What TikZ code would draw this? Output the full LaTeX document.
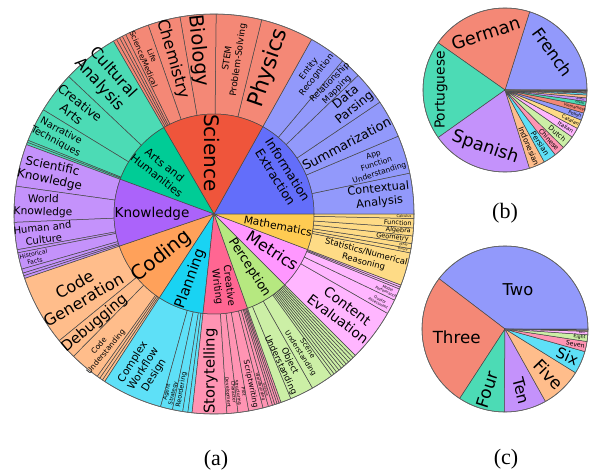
\documentclass[tikz,border=0pt]{standalone}
\usepackage{fontspec}
\setmainfont{DejaVu Sans}
\newfontfamily\capfont{Liberation Serif}
\definecolor{cB}{HTML}{636EFA}
\definecolor{cR}{HTML}{EF553B}
\definecolor{cG}{HTML}{00CC96}
\definecolor{cP}{HTML}{AB63FA}
\definecolor{cO}{HTML}{FFA15A}
\definecolor{cC}{HTML}{19D3F3}
\definecolor{cK}{HTML}{FF6692}
\definecolor{cL}{HTML}{B6E880}
\definecolor{cM}{HTML}{FF97FF}
\definecolor{cY}{HTML}{FECB52}
\newcounter{lb}
\tikzset{
 seg/.style={draw=black!72, line width=0.5pt, line join=round},
 lbl/.style={inner sep=0pt, align=center, text=black},
 captxt/.style={inner sep=0pt, font=\capfont\fontsize{22}{24}\selectfont},
 rim/.style={draw=black!60, line width=0.6pt},
}
\newcommand{\ringset}[2]{\foreach \sa/\sb in {#2} {\filldraw[fill=#1, seg] (\sa:100pt) arc[start angle=\sa,end angle=\sb,radius=100pt] -- (\sb:200pt) arc[start angle=\sb,end angle=\sa,radius=200pt] -- cycle;}}
\newcommand{\sect}[4]{\filldraw[fill=#4, seg] (0,0) -- (#1:#3pt) arc[start angle=#1,end angle=#2,radius=#3pt] -- cycle;}
\newcommand{\lab}[6]{\stepcounter{lb}\node[lbl, rotate=#3, font=\fontsize{#4}{#5}\selectfont] (lab\thelb) at (#1:#2pt) {#6};}
\begin{document}
\begin{tikzpicture}[x=1pt,y=1pt]
\useasboundingbox (0,0) rectangle (591,475);
\fill[white] (0,0) rectangle (591,475);
% ---------------- (a) sunburst
\begin{scope}[shift={(214,261)}]
\ringset{cB!70!white}{0/11.8, 11.8/22.9, 22.9/34, 34/43.9, 43.9/50, 50/60.8}
\ringset{cR!70!white}{60.8/76.2, 76.2/89.4, 89.4/99.8, 99.8/109.2, 109.2/116.2, 116.2/117.3, 117.3/118.2, 118.2/119.2, 119.2/120.2}
\ringset{cG!70!white}{120.2/136.6, 136.6/148.6, 148.6/158.4, 158.4/159.0, 159.0/159.7}
\ringset{cP!70!white}{159.7/172, 172/182.4, 182.4/190.3, 190.3/191.2, 191.2/196, 196/197.2, 197.2/198, 198/198.8}
\ringset{cO!70!white}{198.8/219.3, 219.3/225.4, 225.4/234.3, 234.3/235.2, 235.2/236.1, 236.1/236.9}
\ringset{cC!70!white}{236.9/254.5, 254.5/258, 258/261, 261/262.5, 262.5/263.7}
\ringset{cK!70!white}{263.7/273.7, 273.7/276.9, 276.9/280, 280/284.2, 284.2/285.8, 285.8/287, 287/287.7, 287.7/288.4, 288.4/289, 289/289.6}
\ringset{cL!70!white}{289.6/292.6, 292.6/299.5, 299.5/306, 306/306.9, 306.9/307.8, 307.8/308.7, 308.7/309.6, 309.6/310.5, 310.5/311.4, 311.4/312.3, 312.3/313.2, 313.2/314.1, 314.1/315}
\ringset{cM!70!white}{315/330.2, 330.2/334.5, 334.5/338, 338/338.6, 338.6/339.2}
\ringset{cY!70!white}{339.2/348.8, 348.8/350, 350/351.5, 351.5/353.7, 353.7/356, 356/358.7, 358.7/360}
\foreach \sa/\sb/\cc in {0/60.8/cB, 60.8/120.2/cR, 120.2/159.7/cG, 159.7/198.8/cP, 198.8/236.9/cO, 236.9/263.7/cC, 263.7/289.6/cK, 289.6/315/cL, 315/339.2/cM, 339.2/360/cY}
 {\sect{\sa}{\sb}{100}{\cc}}
\draw[rim] (0,0) circle[radius=200pt];
% inner labels
\lab{92}{61}{-90}{20}{22}{Science}
\lab{31}{79}{-58}{12.5}{14.5}{Information\\Extraction}
\lab{140.5}{69}{-38}{11}{13}{Arts and\\Humanities}
\lab{180}{62}{0}{13.6}{15}{Knowledge}
\lab{219}{67}{38}{20}{22}{Coding}
\lab{250}{69}{70}{14.5}{16}{Planning}
\lab{-83}{73}{-83}{10}{12}{Creative\\Writing}
\lab{-56.5}{64}{-57}{12.6}{14}{Perception}
\lab{-32}{69}{-33}{16}{18}{Metrics}
\lab{-10.5}{65}{-11}{10.7}{12}{Mathematics}
% science
\lab{69.5}{156}{71}{22}{24}{Physics}
\lab{83}{156}{82}{9}{11}{STEM\\Problem-Solving}
\lab{95.5}{164}{-84}{19.5}{21}{Biology}
\lab{104.8}{160}{-74}{16}{18}{Chemistry}
\lab{113}{170}{-67}{7.5}{9}{Life\\Science/Medical}
% information extraction
\lab{55.2}{173}{52}{8.5}{10}{Entity\\Recognition}
\lab{47}{175}{45}{8.5}{10}{Relationship\\Mapping}
\lab{39.2}{176}{39}{12.3}{14}{Data\\Parsing}
\lab{28}{150}{28}{13}{15}{Summarization}
\lab{17}{170}{18}{7.6}{9.5}{App\\Function\\Understanding}
\lab{6.3}{166}{6}{11.4}{13.5}{Contextual\\Analysis}
% mathematics
\lab{-0.6}{190}{-1}{3.5}{4}{Calculus}
\lab{-2.7}{184}{-3}{6.5}{7}{Function}
\lab{-5.1}{185}{-5}{6.5}{7}{Algebra}
\lab{-7.5}{180}{-7}{6.5}{7}{Geometry}
\lab{-9.2}{192}{-9}{3}{3.5}{Other}
\lab{-10.6}{192}{-11}{3}{3.5}{Theory}
\lab{-16}{157}{-15}{8.5}{10.5}{Statistics/Numerical\\Reasoning}
% metrics
\lab{-23.75}{189}{-24}{3.6}{4}{Model\\Performance}
\lab{-27.9}{187}{-28}{3.6}{4}{Quality\\Assessment}
\lab{-37.4}{162}{-37}{13.7}{16}{Content\\Evaluation}
% perception
\lab{-56.8}{164}{-57}{7}{8.5}{Scene\\Understanding}
\lab{-64.5}{165}{-64.5}{8.7}{10}{Object\\Understanding}
% creative writing
\lab{-91.3}{157}{90}{14.8}{16}{Storytelling}
\lab{-84.7}{179}{-85}{4.5}{5.5}{Character\\Development}
\lab{-81.5}{180}{-81}{4.5}{5.5}{Plot\\Structuring}
\lab{-77.8}{174}{-78}{7.6}{9}{Scriptwriting}
\lab{-75}{179}{-75}{4}{5}{Worldbuilding}
\lab{-73.6}{183}{-73.5}{3}{3.5}{Dialogue}
% planning
\lab{-114.5}{170}{58}{10.5}{12.5}{Complex\\Workflow\\Design}
\lab{-103.75}{184}{77}{5.5}{6.5}{Agent\\Strategy}
\lab{-100.5}{179}{80}{6.5}{7.5}{Reordering}
% coding
\lab{-150}{156}{30}{16}{18}{Code\\Generation}
\lab{-137.5}{162}{40}{14.7}{16}{Debugging}
\lab{-129.5}{175}{50}{7.5}{9}{Code\\Understanding}
% knowledge
\lab{166}{168}{-12}{12}{14}{Scientific\\Knowledge}
\lab{177.3}{171}{-2}{10.7}{12.5}{World\\Knowledge}
\lab{186.5}{172}{6}{10}{12}{Human and\\Culture}
\lab{193.6}{185}{12}{6}{7}{Historical\\Facts}
% arts
\lab{128.5}{173}{-48}{15.7}{18}{Cultural\\Analysis}
\lab{142.6}{174}{-38}{12.4}{14}{Creative\\Arts}
\lab{153.5}{174}{-28}{9.8}{11.5}{Narrative\\Techniques}
\end{scope}
% ---------------- (b) languages
\begin{scope}[shift={(505,385)}]
\foreach \sa/\sb/\cc in {0/72.5/cB, 72.5/144.8/cR, 144.8/215.4/cG, 215.4/287.4/cP, 287.4/298.6/cO, 298.6/307.8/cC, 307.8/315.5/cK, 315.5/325/cL, 325/332.1/cM, 332.1/338.5/cY, 338.5/343.7/cB, 343.7/348.9/cR, 348.9/352/cG, 352/354.5/cP, 354.5/356.5/cO, 356.5/357.8/cC, 357.8/358.5/cK, 358.5/359.1/cL, 359.1/359.6/cM, 359.6/360/cY}
 {\sect{\sa}{\sb}{82}{\cc!70!white}}
\draw[rim] (0,0) circle[radius=82pt];
\lab{38.4}{61}{-54}{16.7}{18}{French}
\lab{108.7}{60}{18}{17.8}{19}{German}
\lab{180}{64}{90}{13.8}{15}{Portuguese}
\lab{251}{61}{-19}{17.5}{19}{Spanish}
\lab{-67}{61}{-67}{7.6}{8}{Indonesian}
\lab{-56.8}{64}{-57}{7.4}{8}{Persian}
\lab{-48.3}{66}{-48}{6.6}{7.5}{Chinese}
\lab{-39.8}{68}{-40}{6.8}{7.5}{Dutch}
\lab{-31.4}{71}{-31}{5.6}{6.5}{Italian}
\lab{-24.7}{72}{-25}{4.8}{5.5}{Catalan}
\lab{-18.9}{74}{-19}{4.6}{5.5}{Polish}
\lab{-13.7}{72}{-14}{3.8}{4.5}{Vietnamese}
\lab{-9.5}{76}{-9.5}{3}{3.5}{Greek}
\lab{-6.8}{76}{-7}{2.6}{3}{Arabic}
\end{scope}
% ---------------- (c) counts
\begin{scope}[shift={(505,146)}]
\foreach \sa/\sb/\cc in {0/142.7/cB, 142.7/236.9/cR, 236.9/269.5/cG, 269.5/299.2/cP, 299.2/328.2/cO, 328.2/344.2/cC, 344.2/351.3/cK, 351.3/356/cL, 356/358.4/cM, 358.4/359.2/cY, 359.2/360/cB}
 {\sect{\sa}{\sb}{83}{\cc!70!white}}
\draw[rim] (0,0) circle[radius=83pt];
\lab{71.6}{41}{0}{16.3}{18}{Two}
\lab{189.4}{49}{0}{16.7}{18}{Three}
\lab{253.5}{63}{72}{17}{18}{Four}
\lab{-75.5}{64}{-75}{15.6}{17}{Ten}
\lab{-46.3}{63}{-46}{17}{18}{Five}
\lab{-23.5}{68}{-24}{14.8}{16}{Six}
\lab{-12.3}{72}{-12}{6.2}{7}{Seven}
\lab{-6.3}{75}{-6}{4.7}{5}{Eight}
\lab{-2.4}{77}{-2.5}{2.6}{3}{Nine}
\end{scope}
\node[captxt] (capa) at (216,15) {(a)};
\node[captxt] (capb) at (505,262) {(b)};
\node[captxt] (capc) at (506,16) {(c)};
\end{tikzpicture}
\end{document}
